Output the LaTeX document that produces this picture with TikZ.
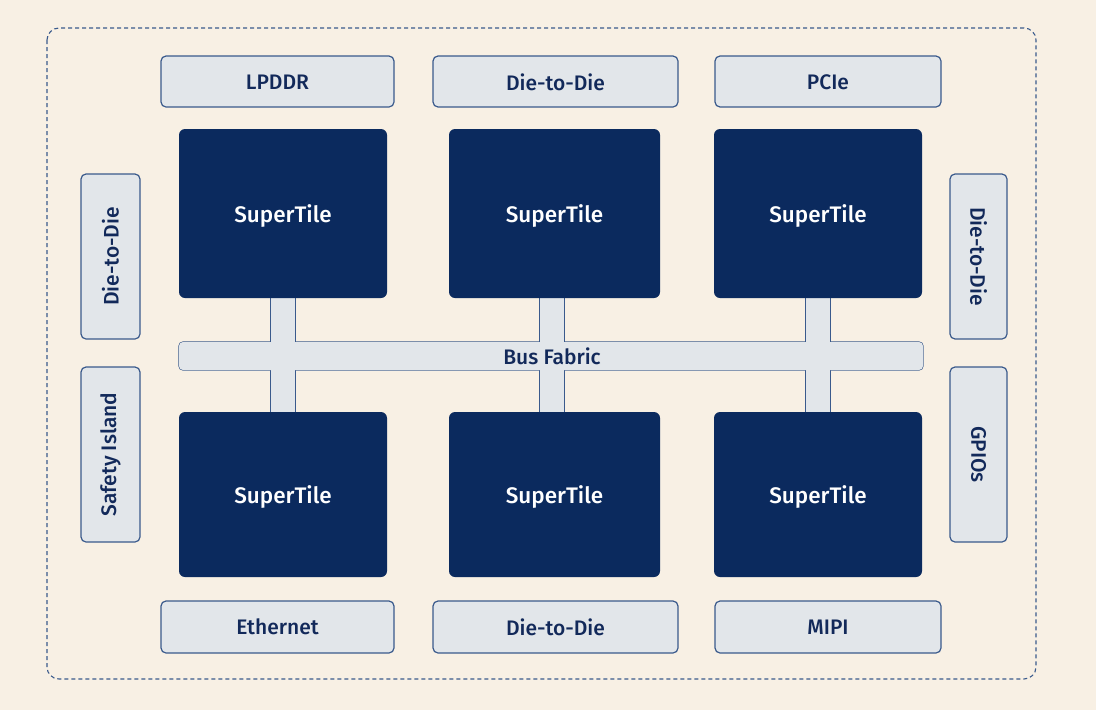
\documentclass[tikz,border=0pt]{standalone}
\usepackage{fontspec}
\setmainfont{Fira Sans}[UprightFont=* Medium]
\definecolor{bg}{HTML}{F8F0E4}
\definecolor{navy}{HTML}{0B2A5E}
\definecolor{lightbox}{HTML}{E2E6EA}
\definecolor{edge}{HTML}{3A5A8C}
\definecolor{ink}{HTML}{12295A}
\begin{document}
\begin{tikzpicture}[x=1pt,y=-1pt,
  iface/.style={draw=edge,fill=lightbox,line width=1.2pt,rounded corners=5pt},
  ifacetext/.style={text=ink,font=\fontsize{21}{24}\selectfont},
  tile/.style={fill=navy,rounded corners=6pt},
  tiletext/.style={text=white,font=\fontsize{22.5}{26}\selectfont,yshift=-2pt},
  busbox/.style={draw=edge,fill=lightbox,line width=1.2pt},
  busfill/.style={fill=lightbox},
]
\useasboundingbox (0,0) rectangle (1096,710);
\fill[bg] (0,0) rectangle (1096,710);
\draw[edge,line width=1.1pt,dashed,dash pattern=on 4pt off 3pt,rounded corners=12pt] (47,28) rectangle (1036,679);

% interface boxes
\draw[iface] (161,56) rectangle (394,107) node[midway,ifacetext,yshift=-1pt] (lpddr) {LPDDR};
\draw[iface] (433,56) rectangle (678,107) node[midway,ifacetext,yshift=-1pt] (d2dtop) {Die-to-Die};
\draw[iface] (715,56) rectangle (941,107) node[midway,ifacetext,yshift=-1pt] (pcie) {PCIe};
\draw[iface] (161,601) rectangle (394,653) node[midway,ifacetext] (eth) {Ethernet};
\draw[iface] (433,601) rectangle (678,653) node[midway,ifacetext] (d2dbot) {Die-to-Die};
\draw[iface] (715,601) rectangle (941,653) node[midway,ifacetext] (mipi) {MIPI};
\draw[iface] (81,174) rectangle (140,339) node[midway,ifacetext,rotate=90] (d2dleft) {Die-to-Die};
\draw[iface] (81,367) rectangle (140,542) node[midway,ifacetext,rotate=90] (safety) {Safety Island};
\draw[iface] (950,174) rectangle (1007,339) node[midway,ifacetext,rotate=-90] (d2dright) {Die-to-Die};
\draw[iface] (950,367) rectangle (1007,542) node[midway,ifacetext,rotate=-90] (gpio) {GPIOs};

% bus fabric and connectors
\draw[busbox,rounded corners=4pt] (179,342) rectangle (923,370);
\foreach \cx in {283,552,818}{
  \draw[busbox] (\cx-12,290) rectangle (\cx+12,420);
}
\fill[busfill,rounded corners=4pt] (179,342) rectangle (923,370);
\foreach \cx in {283,552,818}{
  \fill[busfill] (\cx-12,290) rectangle (\cx+12,420);
}
\node[ifacetext] (bus) at (552,356) {Bus Fabric};

% supertiles
\fill[tile] (179,129) rectangle (387,298) node[midway,tiletext] (t1) {SuperTile};
\fill[tile] (449,129) rectangle (660,298) node[midway,tiletext] (t2) {SuperTile};
\fill[tile] (714,129) rectangle (922,298) node[midway,tiletext] (t3) {SuperTile};
\fill[tile] (179,412) rectangle (387,577) node[midway,tiletext] (t4) {SuperTile};
\fill[tile] (449,412) rectangle (660,577) node[midway,tiletext] (t5) {SuperTile};
\fill[tile] (714,412) rectangle (922,577) node[midway,tiletext] (t6) {SuperTile};
\end{tikzpicture}
\end{document}
